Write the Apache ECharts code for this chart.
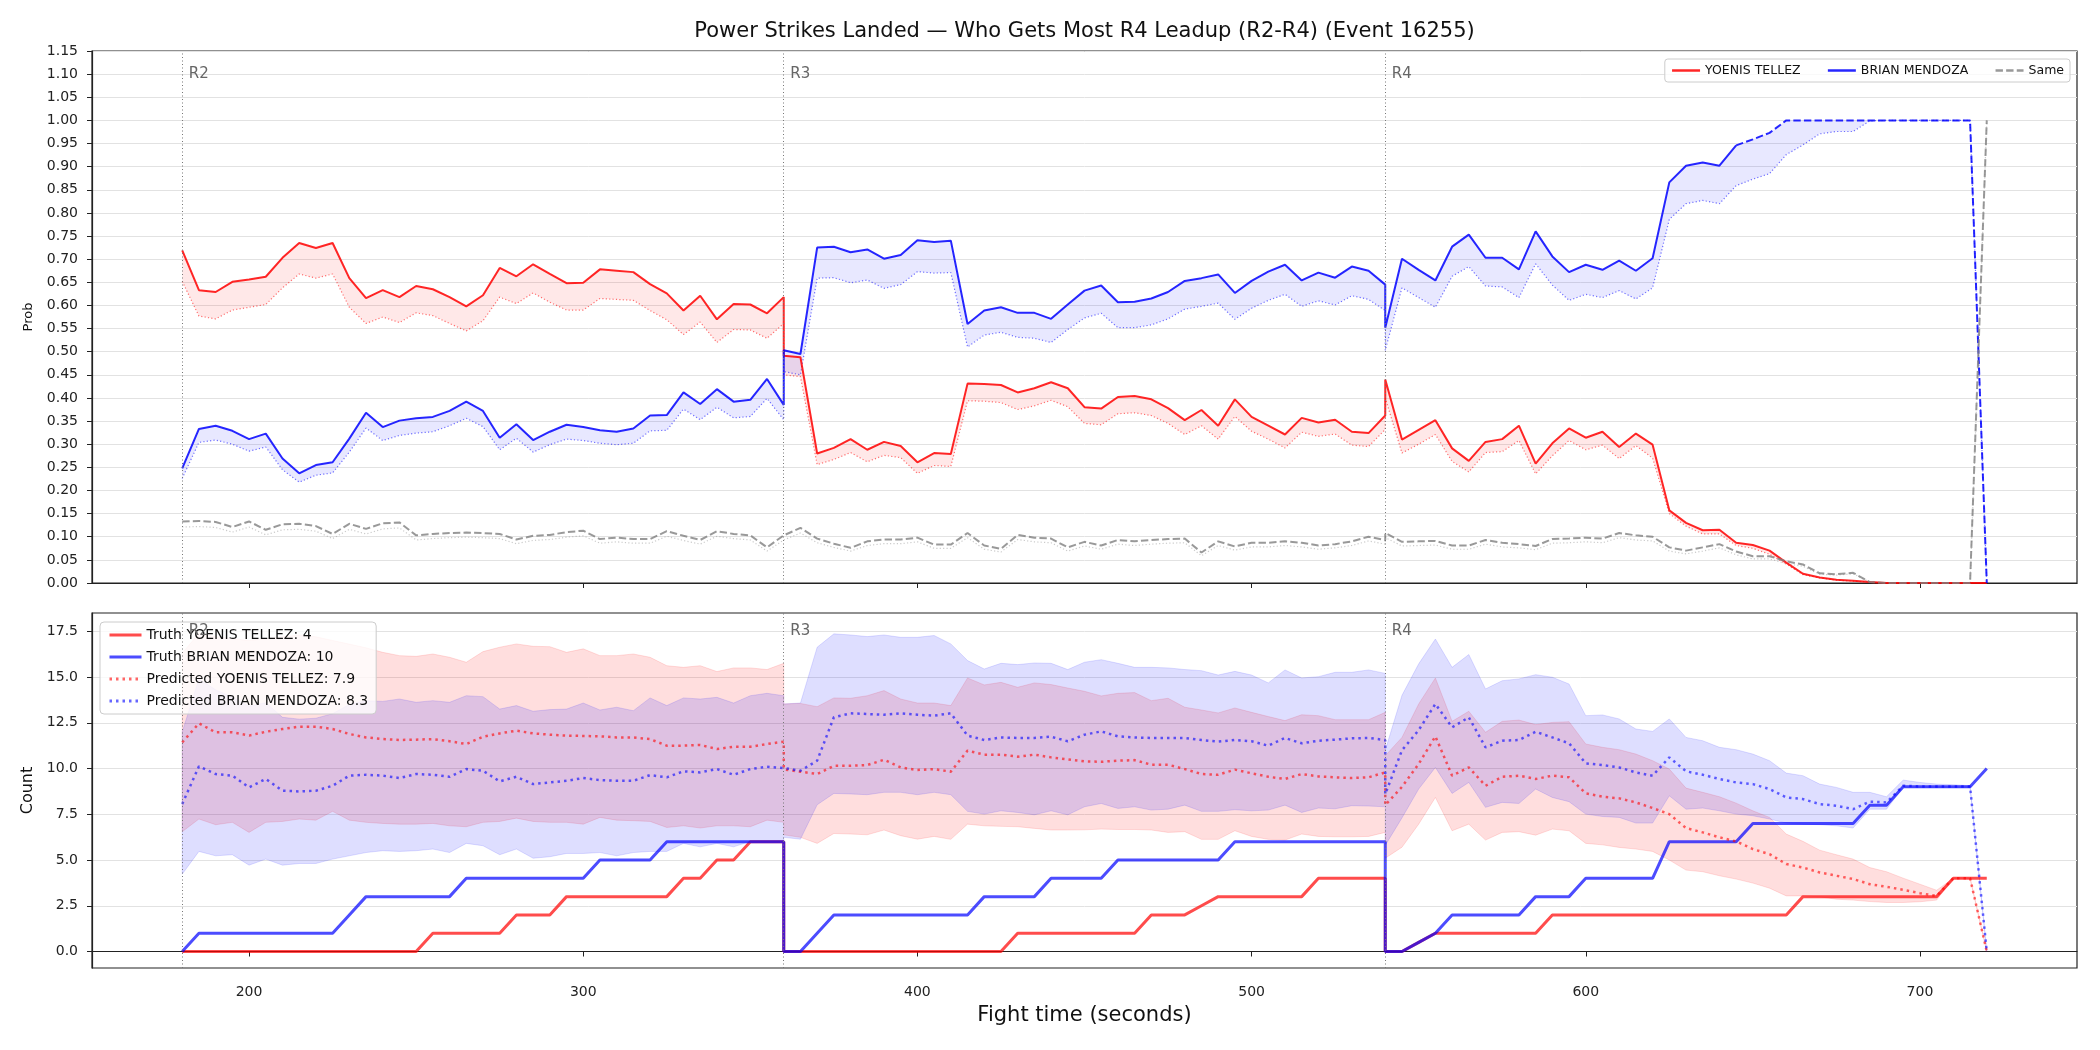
<!DOCTYPE html>
<html lang="en">
<head>
<meta charset="UTF-8">
<title>Power Strikes Landed — Who Gets Most R4 Leadup</title>
<style>
  html, body { margin: 0; padding: 0; background: #fff; }
  #chart { width: 2100px; height: 1050px; }
</style>
<script src="https://cdn.jsdelivr.net/npm/echarts@6/dist/echarts.min.js"></script>
</head>
<body>
<div id="chart"></div>
<script>
// fight time, sampled every 5 s; rounds R2, R3, R4 (boundaries repeated)
var time = [
  180,185,190,195,200,205,210,215,220,225,230,235,240,245,250,255,260,265,270,275,280,285,290,295,300,305,310,315,320,325,330,335,340,345,350,355,360,
  360,365,370,375,380,385,390,395,400,405,410,415,420,425,430,435,440,445,450,455,460,465,470,475,480,485,490,495,500,505,510,515,520,525,530,535,540,
  540,545,550,555,560,565,570,575,580,585,590,595,600,605,610,615,620,625,630,635,640,645,650,655,660,665,670,675,680,685,690,695,700,705,710,715,720
];
var roundStarts = [180, 360, 540];
var roundNames = ['R2', 'R3', 'R4'];
var redName = 'YOENIS TELLEZ';
var blueName = 'BRIAN MENDOZA';

// top panel: probability of getting most strikes
var probRed = [
  0.719,0.633,0.629,0.651,0.656,0.662,0.703,0.735,0.724,0.735,0.659,0.616,0.633,0.618,0.642,0.635,0.618,0.598,0.622,0.681,0.663,0.689,0.668,0.648,0.649,0.678,0.675,0.672,0.646,0.626,0.589,0.621,0.570,0.603,0.602,0.583,0.618,
  0.491,0.488,0.280,0.292,0.311,0.288,0.305,0.296,0.261,0.281,0.279,0.431,0.430,0.428,0.412,0.421,0.434,0.421,0.380,0.377,0.402,0.404,0.397,0.378,0.352,0.374,0.340,0.397,0.359,0.340,0.321,0.357,0.347,0.353,0.327,0.324,0.362,
  0.440,0.310,0.331,0.352,0.291,0.264,0.305,0.311,0.340,0.258,0.302,0.334,0.314,0.327,0.294,0.323,0.299,0.157,0.130,0.114,0.115,0.087,0.082,0.070,0.044,0.020,0.012,0.007,0.005,0.002,0,0,0,0,0,0,0
];
var probRedLow = [
  0.652,0.577,0.571,0.590,0.596,0.602,0.638,0.668,0.659,0.668,0.596,0.561,0.575,0.563,0.584,0.578,0.561,0.545,0.567,0.618,0.604,0.627,0.607,0.590,0.590,0.615,0.613,0.611,0.589,0.569,0.537,0.564,0.520,0.548,0.547,0.529,0.561,
  0.450,0.446,0.256,0.267,0.282,0.262,0.276,0.271,0.237,0.254,0.252,0.394,0.393,0.390,0.375,0.383,0.395,0.381,0.345,0.342,0.366,0.368,0.362,0.345,0.321,0.340,0.311,0.360,0.328,0.311,0.292,0.326,0.317,0.322,0.298,0.295,0.332,
  0.400,0.281,0.300,0.321,0.263,0.240,0.282,0.284,0.308,0.236,0.275,0.308,0.288,0.298,0.269,0.297,0.270,0.150,0.123,0.106,0.106,0.081,0.075,0.062,0.041,0.018,0.011,0.006,0.004,0.002,0,0,0,0,0,0,0
];
var probBlue = [
  0.248,0.333,0.340,0.329,0.311,0.323,0.269,0.237,0.255,0.261,0.312,0.368,0.337,0.351,0.356,0.359,0.372,0.392,0.372,0.314,0.343,0.309,0.327,0.342,0.337,0.330,0.327,0.334,0.362,0.363,0.412,0.387,0.419,0.392,0.396,0.441,0.385,
  0.503,0.495,0.725,0.727,0.715,0.721,0.701,0.709,0.741,0.737,0.740,0.560,0.589,0.596,0.584,0.584,0.571,0.602,0.632,0.643,0.607,0.608,0.615,0.629,0.653,0.659,0.667,0.627,0.653,0.673,0.688,0.654,0.671,0.660,0.684,0.675,0.645,
  0.552,0.701,0.677,0.654,0.727,0.753,0.703,0.703,0.678,0.760,0.706,0.672,0.688,0.677,0.697,0.675,0.702,0.866,0.902,0.909,0.902,0.946,0.959,0.973,1,1,1,1,1,1,1,1,1,1,1,1,0
];
var probBlueLow = [
  0.226,0.304,0.309,0.300,0.285,0.294,0.245,0.218,0.233,0.238,0.283,0.335,0.308,0.319,0.324,0.327,0.340,0.356,0.338,0.288,0.313,0.283,0.299,0.311,0.308,0.302,0.299,0.302,0.329,0.330,0.376,0.353,0.380,0.357,0.360,0.399,0.353,
  0.457,0.450,0.659,0.660,0.649,0.655,0.637,0.645,0.673,0.670,0.671,0.510,0.536,0.542,0.531,0.529,0.520,0.548,0.573,0.583,0.552,0.552,0.558,0.571,0.592,0.598,0.605,0.570,0.594,0.611,0.624,0.598,0.610,0.601,0.621,0.613,0.589,
  0.503,0.638,0.617,0.596,0.663,0.684,0.642,0.640,0.617,0.690,0.644,0.611,0.624,0.617,0.632,0.614,0.638,0.786,0.820,0.827,0.820,0.859,0.873,0.885,0.926,0.947,0.971,0.976,0.976,0.999,1,1,1,1,1,1,0
];
var probSame = [
  0.133,0.134,0.132,0.121,0.133,0.115,0.127,0.128,0.123,0.106,0.128,0.117,0.129,0.131,0.103,0.106,0.108,0.109,0.108,0.106,0.094,0.102,0.104,0.110,0.113,0.095,0.098,0.095,0.095,0.112,0.102,0.093,0.112,0.106,0.103,0.077,0.103,
  0.104,0.119,0.096,0.085,0.076,0.090,0.094,0.094,0.098,0.083,0.083,0.108,0.081,0.074,0.104,0.098,0.096,0.077,0.089,0.081,0.093,0.090,0.093,0.095,0.096,0.066,0.090,0.079,0.087,0.087,0.090,0.087,0.081,0.084,0.090,0.100,0.093,
  0.108,0.089,0.090,0.091,0.081,0.081,0.093,0.087,0.084,0.080,0.095,0.096,0.098,0.096,0.108,0.103,0.100,0.077,0.070,0.077,0.084,0.068,0.058,0.058,0.047,0.040,0.021,0.019,0.022,0.002,0,0,0,0,0,0,1
];
var probSameLow = [
  0.121,0.122,0.120,0.110,0.121,0.104,0.115,0.116,0.112,0.096,0.116,0.106,0.117,0.119,0.093,0.096,0.098,0.099,0.098,0.096,0.085,0.092,0.094,0.099,0.102,0.086,0.089,0.086,0.086,0.101,0.092,0.084,0.101,0.096,0.093,0.069,0.093,
  0.094,0.108,0.087,0.077,0.069,0.081,0.085,0.085,0.089,0.075,0.075,0.098,0.073,0.067,0.094,0.089,0.087,0.069,0.080,0.073,0.084,0.081,0.084,0.086,0.087,0.059,0.081,0.071,0.078,0.078,0.081,0.078,0.073,0.076,0.081,0.091,0.084,
  0.098,0.080,0.081,0.082,0.073,0.073,0.084,0.078,0.076,0.072,0.086,0.087,0.089,0.087,0.098,0.093,0.091,0.069,0.063,0.069,0.076,0.061,0.052,0.052,0.042,0.036,0.019,0.017,0.020,0.002,0,0,0,0,0,0,1
];
var blueSettledFrom = 645;

// bottom panel: strike counts
var truthRed = [
  0,0,0,0,0,0,0,0,0,0,0,0,0,0,0,1,1,1,1,1,2,2,2,3,3,3,3,3,3,3,4,4,5,5,6,6,6,
  0,0,0,0,0,0,0,0,0,0,0,0,0,0,1,1,1,1,1,1,1,1,2,2,2,2.5,3,3,3,3,3,3,4,4,4,4,4,
  0,0,0.5,1,1,1,1,1,1,1,2,2,2,2,2,2,2,2,2,2,2,2,2,2,2,3,3,3,3,3,3,3,3,3,4,4,4
];
var truthBlue = [
  0,1,1,1,1,1,1,1,1,1,2,3,3,3,3,3,3,4,4,4,4,4,4,4,4,5,5,5,5,6,6,6,6,6,6,6,6,
  0,0,1,2,2,2,2,2,2,2,2,2,3,3,3,3,4,4,4,4,5,5,5,5,5,5,5,6,6,6,6,6,6,6,6,6,6,
  0,0,0.5,1,2,2,2,2,2,3,3,3,4,4,4,4,4,6,6,6,6,6,7,7,7,7,7,7,7,8,8,9,9,9,9,9,10
];
var predRed = [
  11.43,12.47,11.98,11.98,11.80,12.01,12.16,12.29,12.29,12.16,11.89,11.70,11.61,11.56,11.58,11.61,11.49,11.34,11.74,11.92,12.07,11.92,11.85,11.80,11.78,11.76,11.70,11.70,11.61,11.25,11.25,11.29,11.07,11.19,11.19,11.34,11.47,
  9.95,9.83,9.70,10.15,10.15,10.19,10.48,10.06,9.92,9.97,9.83,10.98,10.76,10.76,10.65,10.76,10.61,10.50,10.39,10.37,10.43,10.46,10.21,10.21,9.97,9.70,9.66,9.94,9.74,9.55,9.43,9.70,9.57,9.52,9.48,9.52,9.79,
  8.00,9.00,10.25,11.76,9.61,10.06,9.06,9.55,9.61,9.43,9.61,9.52,8.64,8.46,8.37,8.15,7.84,7.51,6.75,6.51,6.24,6.02,5.60,5.32,4.78,4.59,4.32,4.14,3.96,3.68,3.54,3.37,3.19,3.04,4.01,4.01,0
];
var predBlue = [
  8.06,10.12,9.70,9.61,8.97,9.43,8.79,8.75,8.79,9.06,9.61,9.66,9.61,9.48,9.70,9.66,9.55,9.97,9.88,9.30,9.55,9.15,9.24,9.33,9.48,9.37,9.33,9.33,9.64,9.52,9.85,9.79,9.97,9.66,9.97,10.10,10.03,
  9.97,9.88,10.43,12.80,13.02,12.98,12.94,13.02,12.94,12.89,13.02,11.80,11.56,11.70,11.67,11.67,11.74,11.49,11.85,12.03,11.76,11.70,11.67,11.67,11.67,11.56,11.47,11.56,11.49,11.25,11.67,11.38,11.52,11.58,11.65,11.67,11.56,
  8.60,11.00,12.10,13.53,12.25,12.80,11.16,11.52,11.56,12.01,11.70,11.38,10.28,10.19,10.06,9.79,9.61,10.61,9.85,9.66,9.43,9.24,9.15,8.88,8.42,8.33,8.06,7.97,7.78,8.19,8.15,9.06,9.02,9.02,9.02,9.02,0
];
var redHigh = [
  16.3,17.4,17.2,17.1,17.0,17.1,17.2,17.3,17.2,17.0,16.8,16.6,16.35,16.17,16.13,16.26,16.08,15.81,16.39,16.63,16.81,16.68,16.66,16.35,16.54,16.17,16.17,16.26,16.08,15.62,15.53,15.62,15.30,15.50,15.50,15.41,15.75,
  13.53,13.56,13.38,13.86,13.84,13.98,14.26,13.80,13.58,13.58,13.44,14.95,14.57,14.71,14.44,14.68,14.59,14.40,14.22,13.97,14.11,14.15,13.71,13.84,13.35,13.20,13.04,13.31,13.07,12.84,12.62,12.94,12.89,12.67,12.67,12.67,13.07,
  10.7,11.7,13.53,14.95,12.58,13.13,11.98,12.58,12.65,12.40,12.52,12.56,11.34,11.16,11.03,10.79,10.43,9.97,8.93,8.70,8.46,8.11,7.69,7.33,6.42,6.02,5.54,5.29,5.05,4.59,4.36,4.01,3.68,3.35,4.01,4.01,0
];
var redLowBand = [
  6.55,7.24,6.93,7.06,6.51,7.06,7.11,7.24,7.18,7.66,7.18,7.06,7.00,6.96,6.96,7.00,6.87,6.82,7.06,7.11,7.29,7.11,7.06,7.06,6.96,7.33,7.18,7.15,7.11,6.78,6.87,6.75,6.87,6.87,6.82,7.18,7.06,
  6.38,6.24,5.91,6.45,6.42,6.38,6.64,6.33,6.14,6.29,6.13,6.96,6.87,6.84,6.82,6.73,6.64,6.64,6.65,6.69,6.67,6.67,6.64,6.51,6.55,6.13,6.13,6.60,6.29,6.13,6.09,6.42,6.29,6.27,6.27,6.29,6.51,
  5.1,5.7,6.96,8.42,6.60,6.96,6.09,6.51,6.55,6.36,6.69,6.60,5.91,5.83,5.69,5.60,5.47,5.00,4.45,4.36,4.14,3.96,3.74,3.46,3.04,3.04,2.99,2.86,2.81,2.73,2.68,2.68,2.72,2.81,4.01,4.01,0
];
var blueHigh = [
  12.0,14.9,14.3,13.9,13.4,13.6,12.8,12.7,12.75,13.0,13.5,13.7,13.67,13.80,13.62,13.71,13.62,13.98,13.93,13.25,13.44,13.13,13.22,13.25,13.58,13.20,13.35,13.16,13.86,13.44,13.86,13.80,13.89,13.58,13.98,14.11,13.98,
  13.53,13.58,16.63,17.36,17.30,17.21,17.30,17.17,17.17,17.27,16.81,15.90,15.44,15.75,15.68,15.77,15.75,15.41,15.81,15.95,15.75,15.53,15.53,15.50,15.41,15.35,15.11,15.31,15.11,14.68,15.39,14.95,15.02,15.26,15.26,15.39,15.20,
  11.0,14.0,15.72,17.08,15.53,16.23,14.35,14.80,14.90,15.13,14.99,14.62,12.89,12.93,12.71,12.16,12.03,12.71,11.70,11.52,11.16,11.03,10.79,10.43,9.75,9.61,9.15,8.97,8.70,8.70,8.46,9.37,9.24,9.15,9.12,9.06,0
];
var blueLowBand = [
  4.23,5.47,5.23,5.29,4.72,5.05,4.72,4.81,4.81,5.05,5.23,5.41,5.51,5.47,5.51,5.60,5.41,5.91,5.78,5.29,5.60,5.10,5.18,5.36,5.36,5.41,5.23,5.41,5.47,5.47,5.91,5.72,5.91,5.72,6.02,6.02,6.02,
  6.24,6.14,8.02,8.64,8.61,8.57,8.70,8.70,8.57,8.70,8.57,7.66,7.51,7.69,7.60,7.47,7.69,7.47,7.91,8.09,7.82,7.91,7.73,7.78,8.00,7.66,7.66,7.75,7.69,7.73,8.00,7.60,7.84,7.80,7.97,7.95,7.91,
  5.8,7.3,8.88,10.06,8.64,9.24,7.88,8.15,8.09,8.88,8.42,8.19,7.51,7.38,7.33,7.02,7.02,8.51,7.78,7.84,7.69,7.51,7.42,7.24,7.02,6.96,6.93,6.87,6.75,7.78,7.78,8.97,8.97,8.97,8.97,8.97,0
];
var truthTotals = [4, 10];
var predTotals = [7.9, 8.3];
var countTicks = [0, 2.5, 5, 7.5, 10, 12.5, 15, 17.5];
var timeTicks = [200, 300, 400, 500, 600, 700];

var FONT = 'DejaVu Sans';
var chart = echarts.init(document.getElementById('chart'));

function pts(ys, from, to) {
  var out = [];
  for (var i = (from || 0); i <= (to === undefined ? time.length - 1 : to); i++) out.push([time[i], ys[i]]);
  return out;
}

function line(name, data, color, width, dash, xi, z) {
  return {
    name: name, type: 'line', xAxisIndex: xi, yAxisIndex: xi, data: data,
    symbol: 'none', showSymbol: false, z: z || 3, animation: false,
    lineStyle: { color: color, width: width, type: dash || 'solid', cap: 'butt' },
    itemStyle: { color: color }, emphasis: { disabled: true }
  };
}

function band(lo, hi, fill, edge, xi) {
  return {
    type: 'custom', xAxisIndex: xi, yAxisIndex: xi, silent: true, z: 1, clip: true,
    data: [[time[0], lo[0]]],
    renderItem: function (params, api) {
      var up = time.map(function (t, i) { return api.coord([t, hi[i]]); });
      var dn = time.map(function (t, i) { return api.coord([t, lo[i]]); }).reverse();
      return {
        type: 'polygon', shape: { points: up.concat(dn) },
        style: { fill: fill, stroke: edge || 'none', lineWidth: edge ? 1 : 0 }
      };
    }
  };
}

function roundMarks(series, labelY) {
  series.markLine = {
    silent: true, symbol: 'none', animation: false,
    label: { show: false },
    lineStyle: { color: '#777', width: 1, type: [1, 2.5] },
    data: roundStarts.map(function (t) { return { xAxis: t }; })
  };
  series.markPoint = {
    silent: true, symbol: 'circle', symbolSize: 1, animation: false,
    itemStyle: { color: 'rgba(0,0,0,0)' },
    label: { show: true, position: 'right', distance: 6, color: '#666', fontSize: 15, fontFamily: FONT,
             formatter: function (p) { return p.name; } },
    data: roundStarts.map(function (t, i) { return { name: roundNames[i], coord: [t, labelY] }; })
  };
  return series;
}

var cut = time.lastIndexOf(blueSettledFrom);
var dotted = [1.2, 2.2];
var fat = [2.5, 4];

var series = [
  // top panel
  band(probRedLow, probRed, 'rgba(255,0,0,0.09)', null, 0),
  band(probBlueLow, probBlue, 'rgba(0,0,255,0.09)', null, 0),
  line('red low', pts(probRedLow), 'rgba(255,0,0,0.55)', 1.2, dotted, 0),
  line('blue low', pts(probBlueLow), 'rgba(0,0,255,0.55)', 1.2, dotted, 0),
  line('same low', pts(probSameLow), 'rgba(140,140,140,0.45)', 1.2, dotted, 0),
  roundMarks(line(redName, pts(probRed), 'rgba(255,0,0,0.85)', 2, 'solid', 0, 4), 1.10),
  line(blueName, pts(probBlue, 0, cut), 'rgba(0,0,255,0.85)', 2, 'solid', 0, 4),
  line('blue settled', pts(probBlue, cut), 'rgba(0,0,255,0.85)', 2, [7.4, 3.2], 0, 4),
  line('Same', pts(probSame), 'rgba(128,128,128,0.8)', 2, [7.4, 3.2], 0, 4),
  // bottom panel
  band(redLowBand, redHigh, 'rgba(255,0,0,0.13)', 'rgba(255,0,0,0.12)', 1),
  band(blueLowBand, blueHigh, 'rgba(0,0,255,0.13)', 'rgba(0,0,255,0.12)', 1),
  roundMarks(line('Truth ' + redName + ': ' + truthTotals[0], pts(truthRed), 'rgba(255,0,0,0.7)', 3, 'solid', 1), 17.5),
  line('Truth ' + blueName + ': ' + truthTotals[1], pts(truthBlue), 'rgba(0,0,255,0.7)', 3, 'solid', 1),
  line('Predicted ' + redName + ': ' + predTotals[0], pts(predRed), 'rgba(255,0,0,0.6)', 2.5, fat, 1),
  line('Predicted ' + blueName + ': ' + predTotals[1], pts(predBlue), 'rgba(0,0,255,0.6)', 2.5, fat, 1)
];

var tickText = { color: '#222', fontSize: 14, fontFamily: FONT };

var option = {
  animation: false,
  backgroundColor: '#fff',
  textStyle: { fontFamily: FONT },
  graphic: [{
    type: 'text', x: 1084.5, y: 32,
    style: {
      text: 'Power Strikes Landed \u2014 Who Gets Most R4 Leadup (R2-R4) (Event 16255)',
      fill: '#111', font: '21px "DejaVu Sans"', align: 'center', verticalAlign: 'middle'
    }
  }],
  grid: [
    { left: 92, right: 23, top: 51, height: 532, show: true, borderColor: '#222', borderWidth: 1.2, backgroundColor: 'transparent' },
    { left: 92, right: 23, top: 613, height: 355, show: true, borderColor: '#222', borderWidth: 1.2, backgroundColor: 'transparent' }
  ],
  legend: [
    {
      data: [redName, blueName, 'Same'], orient: 'horizontal', right: 30, top: 59,
      itemWidth: 28, itemHeight: 12, itemGap: 26, padding: [5, 6],
      itemStyle: { opacity: 0 }, lineStyle: { width: 2.5 },
      backgroundColor: 'rgba(255,255,255,0.8)', borderColor: '#cccccc', borderWidth: 1, borderRadius: 3,
      textStyle: { fontSize: 12.5, color: '#111', fontFamily: FONT }, selectedMode: false
    },
    {
      data: ['Truth ' + redName + ': ' + truthTotals[0], 'Truth ' + blueName + ': ' + truthTotals[1],
             'Predicted ' + redName + ': ' + predTotals[0], 'Predicted ' + blueName + ': ' + predTotals[1]],
      orient: 'vertical', left: 100, top: 622,
      itemWidth: 32, itemHeight: 14, itemGap: 8, padding: [6, 8],
      itemStyle: { opacity: 0 }, lineStyle: { width: 3 },
      backgroundColor: 'rgba(255,255,255,0.8)', borderColor: '#cccccc', borderWidth: 1, borderRadius: 4,
      textStyle: { fontSize: 14, color: '#111', fontFamily: FONT }, selectedMode: false
    }
  ],
  xAxis: [
    {
      type: 'value', gridIndex: 0, min: 153, max: 747,
      axisLine: { show: true, lineStyle: { color: '#222', width: 1.2 } },
      axisTick: { show: true, length: 5, inside: false, customValues: timeTicks, lineStyle: { color: '#222' } },
      axisLabel: { show: false, customValues: timeTicks },
      splitLine: { show: false }
    },
    {
      type: 'value', gridIndex: 1, min: 153, max: 747,
      name: 'Fight time (seconds)', nameLocation: 'middle', nameGap: 37,
      nameTextStyle: { fontSize: 21, color: '#111', fontFamily: FONT },
      axisLine: { show: true, lineStyle: { color: '#222', width: 1.2 } },
      axisTick: { show: true, length: 5, customValues: timeTicks, lineStyle: { color: '#222' } },
      axisLabel: Object.assign({ margin: 17, customValues: timeTicks }, tickText),
      splitLine: { show: false }
    }
  ],
  yAxis: [
    {
      type: 'value', gridIndex: 0, min: 0, max: 1.15, interval: 0.05,
      name: 'Prob', nameLocation: 'middle', nameGap: 57,
      nameTextStyle: { fontSize: 13, color: '#111', fontFamily: FONT },
      axisLine: { show: true, lineStyle: { color: '#222', width: 1.2 } },
      axisTick: { show: true, length: 5, lineStyle: { color: '#222' } },
      axisLabel: Object.assign({ margin: 14, formatter: function (v) { return v.toFixed(2); } }, tickText),
      splitLine: { show: true, lineStyle: { color: '#e2e2e2', width: 1 } }
    },
    {
      type: 'value', gridIndex: 1, min: -0.9, max: 18.5,
      name: 'Count', nameLocation: 'middle', nameGap: 56,
      nameTextStyle: { fontSize: 16, color: '#111', fontFamily: FONT },
      axisLine: { show: true, lineStyle: { color: '#222', width: 1.2 } },
      axisTick: { show: true, length: 5, customValues: countTicks, lineStyle: { color: '#222' } },
      axisLabel: Object.assign({ margin: 14, customValues: countTicks, formatter: function (v) { return v.toFixed(1); } }, tickText),
      splitLine: { show: true, lineStyle: { color: '#e2e2e2', width: 1 } }
    }
  ],
  series: series
};

chart.setOption(option);
</script>
</body>
</html>
